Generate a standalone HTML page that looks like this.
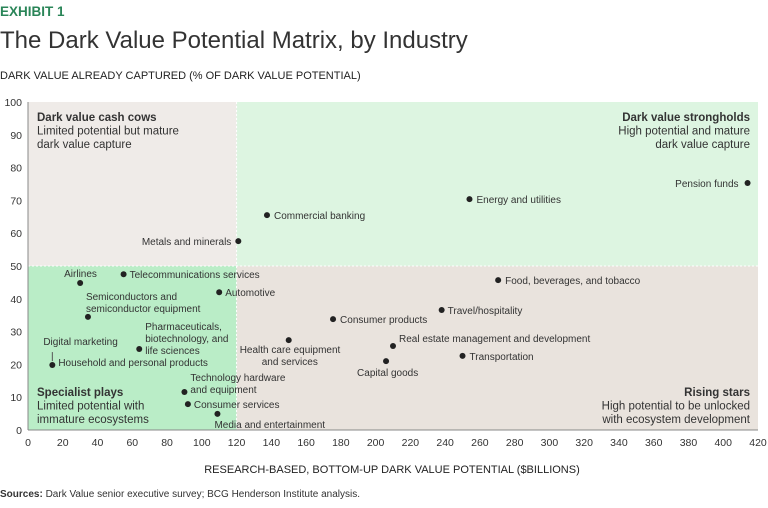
<!DOCTYPE html>
<html><head><meta charset="utf-8"><style>
body{margin:0;background:#fff;font-family:"Liberation Sans",sans-serif;}
svg text{font-family:"Liberation Sans",sans-serif;}
</style></head><body>
<svg id="c" width="768" height="503">
<text x="0" y="16" font-size="13.5" font-weight="bold" fill="#2a8558">EXHIBIT 1</text>
<text x="0" y="48" font-size="24" fill="#333">The Dark Value Potential Matrix, by Industry</text>
<text x="0" y="79" font-size="11" fill="#222">DARK VALUE ALREADY CAPTURED (% OF DARK VALUE POTENTIAL)</text>
<text x="392" y="473" font-size="11" fill="#222" text-anchor="middle">RESEARCH-BASED, BOTTOM-UP DARK VALUE POTENTIAL ($BILLIONS)</text>
<text x="0" y="497" font-size="10" fill="#333"><tspan font-weight="bold">Sources:</tspan> Dark Value senior executive survey; BCG Henderson Institute analysis.</text>
<g id="plot"></g>
</svg>
<script>
const names=["Pension funds","Energy and utilities","Commercial banking","Metals and minerals","Airlines","Telecommunications services","Automotive","Semiconductors and|semiconductor equipment","Pharmaceuticals,|biotechnology, and|life sciences","Household and personal products","Technology hardware|and equipment","Consumer services","Media and entertainment","Health care equipment|and services","Consumer products","Food, beverages, and tobacco","Travel/hospitality","Real estate management and development","Capital goods","Transportation"];
const potential=[414,254,137.5,121,30,55,110,34.5,64,14,90,92,109,150,175.5,270.5,238,210,206,250];
const captured=[75.3,70.4,65.5,57.6,44.8,47.5,42,34.5,24.7,19.8,11.6,7.9,4.9,27.4,33.8,45.7,36.6,25.6,21,22.6];
const xTicks=[0,20,40,60,80,100,120,140,160,180,200,220,240,260,280,300,320,340,360,380,400,420];
const yTicks=[0,10,20,30,40,50,60,70,80,90,100];
// label placement (pixel offsets from point: dx, dy, anchor)
const lab=[[-9,4,"end"],[7,4,"start"],[7,4,"start"],[-7,4,"end"],[-16,-6,"start"],[6,4,"start"],[6,4,"start"],[-2,-17,"start"],[6,-19,"start"],[6,1,"start"],[6,-11,"start"],[6,4,"start"],[-3,14,"start"],[-49,13,"start"],[7,4,"start"],[7,4,"start"],[6,4,"start"],[6,-4,"start"],[-29,15,"start"],[7,4,"start"]];
const X0=28,X1=758,Y0=430,Y1=102;
const sx=v=>X0+(v/420)*(X1-X0), sy=v=>Y0-(v/100)*(Y0-Y1);
const ns="http://www.w3.org/2000/svg", g=document.getElementById('plot');
function mk(t,a,txt){const e=document.createElementNS(ns,t);for(const k in a)e.setAttribute(k,a[k]);if(txt!=null)e.textContent=txt;g.appendChild(e);return e;}
let r;
r=mk('rect',{x:sx(0),y:sy(100),width:sx(120)-sx(0),height:sy(50)-sy(100),fill:'#efebe8'});


r=mk('rect',{x:sx(120),y:sy(100),width:sx(420)-sx(120),height:sy(50)-sy(100),fill:'#ddf5e1'});


r=mk('rect',{x:sx(0),y:sy(50),width:sx(120)-sx(0),height:sy(0)-sy(50),fill:'#baedc7'});


r=mk('rect',{x:sx(120),y:sy(50),width:sx(420)-sx(120),height:sy(0)-sy(50),fill:'#e9e3dd'});


r=mk('line',{x1:sx(0),x2:sx(420),y1:sy(50),y2:sy(50),stroke:'#fff','stroke-dasharray':'2,2'});


r=mk('line',{x1:sx(120),x2:sx(120),y1:sy(100),y2:sy(0),stroke:'#fff','stroke-dasharray':'2,2'});


r=mk('line',{x1:X0,x2:X0,y1:Y1,y2:Y0,stroke:'#888'});


r=mk('line',{x1:X0,x2:X1,y1:Y0,y2:Y0,stroke:'#888'});


xTicks.forEach(v=>{const t=mk('text',{x:sx(v),y:446,'font-size':10.5,'text-anchor':'middle',fill:'#333'},v);

});
yTicks.forEach(v=>{const t=mk('text',{x:22,y:sy(v)+4,'font-size':10.5,'text-anchor':'end',fill:'#333'},v);

});
function block(x,y,anchor,lines,nm){lines.forEach((l,i)=>{const t=mk('text',{x:x,y:y+i*13.5,'font-size':11.5,'text-anchor':anchor,fill:'#333','font-weight':i==0?'bold':'normal'},l);

});}
block(37,121,'start',['Dark value cash cows','Limited potential but mature','dark value capture'],'quadrant-label-cash-cows');
block(750,121,'end',['Dark value strongholds','High potential and mature','dark value capture'],'quadrant-label-strongholds');
block(37,396,'start',['Specialist plays','Limited potential with','immature ecosystems'],'quadrant-label-specialist');
block(750,396,'end',['Rising stars','High potential to be unlocked','with ecosystem development'],'quadrant-label-rising-stars');
names.forEach((n,i)=>{const px=sx(potential[i]),py=sy(captured[i]);
const d=mk('circle',{cx:px,cy:py,r:3,fill:'#222'});


const L=lab[i];n.split('|').forEach((s,j)=>{const t=mk('text',{x:px+L[0]+(i==13&&j==1?22:0),y:py+L[1]+j*12,'font-size':10,'text-anchor':L[2],fill:'#333'},s);

});});
// Digital marketing callout
const hx=sx(potential[9]),hy=sy(captured[9]);
r=mk('line',{x1:hx,x2:hx,y1:hy-4,y2:hy-13,stroke:'#555'});


r=mk('text',{x:hx-9,y:hy-20,'font-size':10,fill:'#333'},'Digital marketing');


</script>
</body></html>
